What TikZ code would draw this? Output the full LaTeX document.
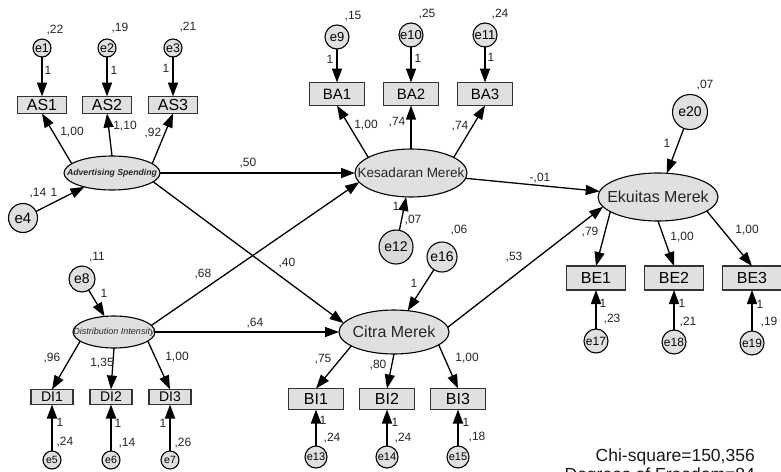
\documentclass[tikz,border=0pt]{standalone}
\usepackage{fontspec}
\setmainfont{Liberation Sans}
\usetikzlibrary{arrows.meta,shapes.geometric}
\newcommand\myfs[1]{\fontsize{#1}{#1}\selectfont}
\newcommand\mylb[3]{\node[lbl] (#1) at (#2) {#3};}
\begin{document}
\begin{tikzpicture}[x=1pt,y=-1pt,
  lat/.style={ellipse,draw=black,line width=1.1pt,fill=black!12,inner sep=0pt,outer sep=0pt},
  obs/.style={rectangle,draw=black!80,line width=1.5pt,fill=black!12,inner sep=0pt,outer sep=0pt},
  err/.style={circle,draw=black,line width=1.1pt,fill=black!12,inner sep=0pt,outer sep=0pt},
  arr/.style={line width=1.3pt,-{Triangle[length=14pt,width=10pt]}},
  earr/.style={line width=1.8pt,-{Triangle[length=14pt,width=10pt]}},
  lbl/.style={inner sep=0pt,text=black!85,font=\myfs{12}},
  ltxt/.style={inner sep=0pt,text=black!85},
]
\clip (0,0) rectangle (781,471);
\fill[white] (0,0) rectangle (781,471);

% ---------- latent variables
\node[lat,minimum width=96pt,minimum height=34pt] (asp) at (112,173) {};
\node[ltxt,font=\myfs{8.7}\bfseries\itshape] (aspt) at (asp) {Advertising Spending};
\node[lat,minimum width=82pt,minimum height=32pt] (dip) at (114,332) {};
\node[ltxt,font=\myfs{9}\itshape] (dipt) at (dip) {Distribution Intensity};
\node[lat,minimum width=112pt,minimum height=48pt] (kes) at (411,173) {};
\node[ltxt,font=\myfs{13.5}] (kest) at (kes) {Kesadaran Merek};
\node[lat,minimum width=110pt,minimum height=44pt] (cit) at (394,332) {};
\node[ltxt,font=\myfs{16}] (citt) at (cit) {Citra Merek};
\node[lat,minimum width=120pt,minimum height=48pt] (eku) at (658,197) {};
\node[ltxt,font=\myfs{16}] (ekut) at (eku) {Ekuitas Merek};

% ---------- observed
\node[obs,minimum width=49pt,minimum height=17pt,font=\myfs{16}] (as1) at (42,105) {AS1};
\node[obs,minimum width=49pt,minimum height=17pt,font=\myfs{16}] (as2) at (107,105) {AS2};
\node[obs,minimum width=49pt,minimum height=17pt,font=\myfs{16}] (as3) at (173,105) {AS3};
\node[obs,minimum width=55pt,minimum height=23pt,font=\myfs{15}] (ba1) at (337,94) {BA1};
\node[obs,minimum width=55pt,minimum height=23pt,font=\myfs{15}] (ba2) at (411,94) {BA2};
\node[obs,minimum width=55pt,minimum height=23pt,font=\myfs{15}] (ba3) at (485,94) {BA3};
\node[obs,minimum width=42pt,minimum height=15pt,font=\myfs{14}] (di1) at (52,397) {DI1};
\node[obs,minimum width=42pt,minimum height=15pt,font=\myfs{14}] (di2) at (111,397) {DI2};
\node[obs,minimum width=42pt,minimum height=15pt,font=\myfs{14}] (di3) at (170,397) {DI3};
\node[obs,minimum width=55pt,minimum height=21pt,font=\myfs{16}] (bi1) at (316,399) {BI1};
\node[obs,minimum width=55pt,minimum height=21pt,font=\myfs{16}] (bi2) at (387,399) {BI2};
\node[obs,minimum width=55pt,minimum height=21pt,font=\myfs{16}] (bi3) at (458,399) {BI3};
\node[obs,minimum width=59pt,minimum height=24pt,font=\myfs{16}] (be1) at (596,278) {BE1};
\node[obs,minimum width=59pt,minimum height=24pt,font=\myfs{16}] (be2) at (674,278) {BE2};
\node[obs,minimum width=59pt,minimum height=24pt,font=\myfs{16}] (be3) at (752,278) {BE3};

% ---------- errors
\node[err,minimum size=18pt,font=\myfs{12.5}] (e1) at (42,48) {e1};
\node[err,minimum size=18pt,font=\myfs{12.5}] (e2) at (107,48) {e2};
\node[err,minimum size=18pt,font=\myfs{12.5}] (e3) at (173,48) {e3};
\node[err,minimum size=29pt,font=\myfs{15}] (e4) at (23,218) {e4};
\node[err,minimum size=18pt,font=\myfs{10.5}] (e5) at (52,460) {e5};
\node[err,minimum size=18pt,font=\myfs{10.5}] (e6) at (111,460) {e6};
\node[err,minimum size=18pt,font=\myfs{10.5}] (e7) at (170,460) {e7};
\node[err,minimum size=26pt,font=\myfs{14}] (e8) at (82,279) {e8};
\node[err,minimum size=24pt,font=\myfs{13}] (e9) at (337,37) {e9};
\node[err,minimum size=24pt,font=\myfs{13}] (e10) at (411,35) {e10};
\node[err,minimum size=24pt,font=\myfs{13}] (e11) at (485,35) {e11};
\node[err,minimum size=34pt,font=\myfs{14},fill=black!15] (e12) at (396,247) {e12};
\node[err,minimum size=22pt,font=\myfs{11}] (e13) at (316,457) {e13};
\node[err,minimum size=22pt,font=\myfs{11}] (e14) at (387,457) {e14};
\node[err,minimum size=22pt,font=\myfs{11}] (e15) at (458,457) {e15};
\node[err,minimum size=30pt,font=\myfs{14}] (e16) at (442,257) {e16};
\node[err,minimum size=24pt,font=\myfs{12}] (e17) at (596,341) {e17};
\node[err,minimum size=24pt,font=\myfs{12}] (e18) at (674,342) {e18};
\node[err,minimum size=24pt,font=\myfs{12}] (e19) at (752,343) {e19};
\node[err,minimum size=35pt,font=\myfs{14}] (e20) at (690,112) {e20};

% ---------- structural paths
\draw[arr] (asp) -- (kes);
\draw[arr] (asp.-12) -- (cit.170);
\draw[arr] (dip.10) -- (kes.190);
\draw[arr] (dip) -- (cit);
\draw[arr] (kes) -- (eku);
\draw[arr] (cit.5) -- (eku.190);
\draw[arr] (e4) -- (asp);
\draw[arr] (e8) -- (dip);
\draw[arr] (e12) -- (kes);
\draw[arr] (e16) -- (cit);
\draw[arr] (e20) -- (eku);

% ---------- loadings
\draw[arr] (asp.167) -- (as1.south);
\draw[arr] (asp.north) -- (as2.south);
\draw[arr] (asp.13) -- (as3.south);
\draw[arr] (kes.160) -- (ba1.south);
\draw[arr] (kes.north) -- (ba2.south);
\draw[arr] (kes.20) -- (ba3.south);
\draw[arr] (dip.195) -- (di1.north);
\draw[arr] (dip.south) -- (di2.north);
\draw[arr] (dip.345) -- (di3.north);
\draw[arr] (cit.198) -- (bi1.north);
\draw[arr] (cit.south) -- (bi2.north);
\draw[arr] (cit.344) -- (bi3.north);
\draw[arr] (eku.197) -- (be1.north);
\draw[arr] (eku.south) -- (be2.north);
\draw[arr] (eku.344) -- (be3.north);

% ---------- measurement errors
\draw[earr] (e1) -- (as1);
\draw[earr] (e2) -- (as2);
\draw[earr] (e3) -- (as3);
\draw[earr] (e9) -- (ba1);
\draw[earr] (e10) -- (ba2);
\draw[earr] (e11) -- (ba3);
\draw[earr] (e5) -- (di1);
\draw[earr] (e6) -- (di2);
\draw[earr] (e7) -- (di3);
\draw[earr] (e13) -- (bi1);
\draw[earr] (e14) -- (bi2);
\draw[earr] (e15) -- (bi3);
\draw[earr] (e17) -- (be1);
\draw[earr] (e18) -- (be2);
\draw[earr] (e19) -- (be3);

% ---------- labels: AS block
\mylb{v1}{55,30}{,22}
\mylb{v2}{120,28}{,19}
\mylb{v3}{188,27}{,21}
\mylb{w1}{48,70}{1}
\mylb{w2}{114,70}{1}
\mylb{w3}{166,68}{1}
\mylb{l1}{72,132}{1,00}
\mylb{l2}{125,126}{1,10}
\mylb{l3}{153,133}{,92}
\mylb{v4}{38,193}{,14}
\mylb{w4}{54,192}{1}
\mylb{p1}{248,163}{,50}
% DI block
\mylb{v8}{97,257}{,11}
\mylb{w8}{104,293}{1}
\mylb{p2}{203,274}{,68}
\mylb{p3}{255,323}{,64}
\mylb{p4}{287,263}{,40}
\mylb{l4}{52,358}{,96}
\mylb{l5}{102,363}{1,35}
\mylb{l6}{177,357}{1,00}
\mylb{w5}{60,422}{1}
\mylb{v5}{65,442}{,24}
\mylb{w6}{118,423}{1}
\mylb{v6}{127,443}{,14}
\mylb{w7}{163,423}{1}
\mylb{v7}{183,443}{,26}
% Kes block
\mylb{v9}{353,16}{,15}
\mylb{v10}{427,14}{,25}
\mylb{v11}{500,14}{,24}
\mylb{w9}{330,59}{1}
\mylb{w10}{418,58}{1}
\mylb{w11}{491,57}{1}
\mylb{l7}{366,125}{1,00}
\mylb{l8}{397,122}{,74}
\mylb{l9}{460,126}{,74}
\mylb{w12}{396,206}{1}
\mylb{v12}{413,220}{,07}
\mylb{p5}{540,178}{-,01}
% Citra block
\mylb{v16}{459,230}{,06}
\mylb{w16}{414,283}{1}
\mylb{p6}{514,257}{,53}
\mylb{l10}{323,359}{,75}
\mylb{l11}{378,365}{,80}
\mylb{l12}{467,358}{1,00}
\mylb{w13}{323,420}{1}
\mylb{v13}{332,438}{,24}
\mylb{w14}{395,422}{1}
\mylb{v14}{403,438}{,24}
\mylb{w15}{466,422}{1}
\mylb{v15}{477,437}{,18}
% Ekuitas block
\mylb{v20}{705,85}{,07}
\mylb{w20}{667,143}{1}
\mylb{l13}{590,232}{,79}
\mylb{l14}{682,237}{1,00}
\mylb{l15}{747,230}{1,00}
\mylb{w17}{603,303}{1}
\mylb{v17}{612,319}{,23}
\mylb{w18}{682,303}{1}
\mylb{v18}{688,322}{,21}
\mylb{w19}{760,304}{1}
\mylb{v19}{769,322}{,19}

% ---------- fit statistics
\node[inner sep=0pt,anchor=base east,font=\myfs{17.5},text=black!90] (chi) at (755,461) {Chi-square=150,356};
\node[inner sep=0pt,anchor=base east,font=\myfs{17.5},text=black!90] (dof) at (755,480) {Degrees of Freedom=84};
\end{tikzpicture}
\end{document}
